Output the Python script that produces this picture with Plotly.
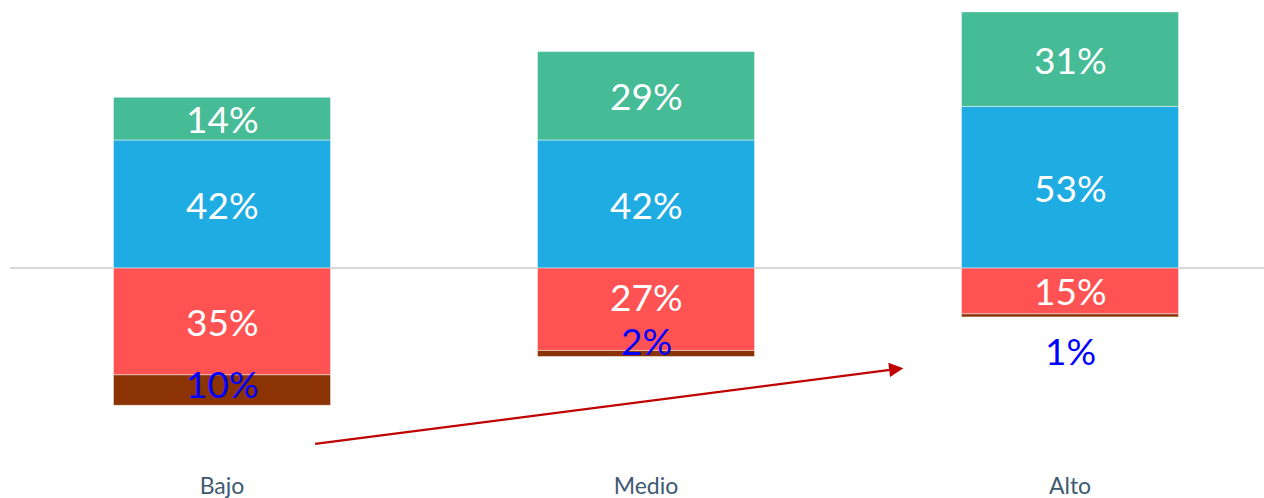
import plotly.graph_objects as go

categories = ["Bajo", "Medio", "Alto"]
pos_low = [42, 42, 53]      # blue
pos_high = [14, 29, 31]     # green
neg_high = [35, 27, 15]     # red
neg_low = [10, 2, 1]        # brown

# pixel nudges for label placement (not data)
red_label_shift = [0, 13, 0]
brown_label_y = [-37.7, -23.6, -26.9]

C_GREEN = "#45BB96"
C_BLUE = "#1FACE3"
C_RED = "#FF5252"
C_BROWN = "#8B3305"
FONT = "Lato"

fig = go.Figure()
edge = dict(color="rgba(255,255,255,0.6)", width=0.8)
bw = 0.512
fig.add_trace(go.Bar(x=categories, y=pos_low, marker=dict(color=C_BLUE, line=edge), width=bw))
fig.add_trace(go.Bar(x=categories, y=pos_high, marker=dict(color=C_GREEN, line=edge), width=bw))
fig.add_trace(go.Bar(x=categories, y=[-v for v in neg_high], marker=dict(color=C_RED, line=edge), width=bw))
fig.add_trace(go.Bar(x=categories, y=[-v for v in neg_low], marker=dict(color=C_BROWN, line=edge), width=bw))

ann = []
wfont = dict(family=FONT, size=37, color="white")
for i, c in enumerate(categories):
    ann.append(dict(x=c, y=pos_low[i] / 2, text=f"{pos_low[i]}%", showarrow=False, font=wfont))
    ann.append(dict(x=c, y=pos_low[i] + pos_high[i] / 2, text=f"{pos_high[i]}%", showarrow=False, font=wfont))
    ann.append(dict(x=c, y=-neg_high[i] / 2, text=f"{neg_high[i]}%", showarrow=False, font=wfont,
                    yshift=red_label_shift[i]))
    ann.append(dict(x=c, y=brown_label_y[i], text=f"{neg_low[i]}%", showarrow=False,
                    font=dict(family=FONT, size=37, color="#0000FF")))

# trend arrow
ann.append(dict(x=1.607, y=-32.8, ax=0.216, ay=-57.7, xref="x", yref="y", axref="x", ayref="y",
                text="", showarrow=True, arrowhead=2, arrowsize=1.3, arrowwidth=2.2,
                arrowcolor="#C00000"))

fig.update_layout(
    barmode="relative",
    width=1264, height=498,
    margin=dict(l=10, r=0, t=0, b=28),
    plot_bgcolor="white", paper_bgcolor="white",
    showlegend=False,
    annotations=ann,
    xaxis=dict(range=[-0.5, 2.4575], showgrid=False, showline=False, ticks="",
               tickfont=dict(family=FONT, size=23, color="#3E5A72")),
    yaxis=dict(range=[-66.2, 87.9], showgrid=False, showticklabels=False,
               zeroline=True, zerolinecolor="#D9D9D9", zerolinewidth=2),
)

fig.write_html("out.html", config={"displayModeBar": False})

with open("out.html", "r", encoding="utf-8") as f:
    html = f.read()
html = html.replace("<head>", "<head><style>html,body{margin:0;padding:0;overflow:hidden;}</style>", 1)
with open("out.html", "w", encoding="utf-8") as f:
    f.write(html)
